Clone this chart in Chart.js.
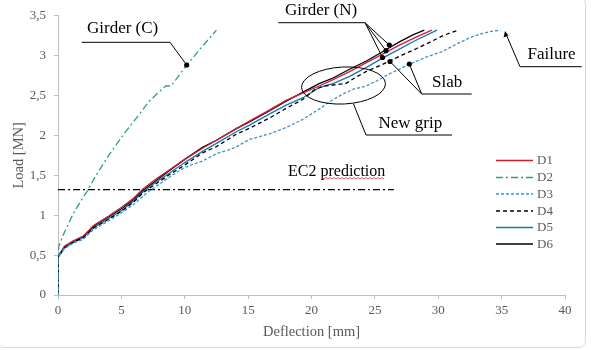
<!DOCTYPE html>
<html>
<head>
<meta charset="utf-8">
<script src="https://cdn.jsdelivr.net/npm/chart.js@4.4.1/dist/chart.umd.min.js"></script>
<style>
  html, body { margin: 0; padding: 0; background: #ffffff; }
  #wrap { position: relative; width: 591px; height: 350px; overflow: hidden; }
  #frame { position: absolute; left: -3px; top: -3px; width: 589px; height: 351px; border: 1px solid #d9d9d9; border-radius: 7px; box-sizing: border-box; pointer-events: none; }
  canvas { display: block; }
</style>
</head>
<body>
<div id="wrap">
<canvas id="c" width="591" height="350"></canvas>
<div id="frame"></div>
</div>
<script>
// ---------- data ----------
const seriesNames = ['D1', 'D2', 'D3', 'D4', 'D5', 'D6'];

const D1_x = [0,0,0.5,1.2,2.0,2.8,4.0,5.1,6.0,6.7,7.7,8.8,10,11.4,12.5,14,15.1,16.7,18,19.3,20.6,21.7,23,24.3,25.6,26.9,28.2,29.5];
const D1_y = [0,0.48,0.61,0.68,0.74,0.87,0.99,1.11,1.22,1.33,1.45,1.57,1.7,1.84,1.94,2.08,2.18,2.32,2.44,2.53,2.62,2.7,2.8,2.91,3.02,3.13,3.23,3.32];

const D2_x = [0,0,0.05,0.4,1.2,2.0,2.3,3.0,4.0,5.2,6.2,7.2,8.0,8.5,8.9,9.3,10.1,11.3,12.5];
const D2_y = [0,0.5,0.6,0.75,1.02,1.23,1.3,1.5,1.75,2.02,2.22,2.43,2.55,2.62,2.62,2.7,2.87,3.1,3.32];

const D3_x = [0,0,0.5,1.2,2.0,2.8,4.0,5.1,6.0,7.0,8.8,10,11.4,12.5,14,15.1,16.7,18,19.3,20.6,21.7,22.5,23.3,24.3,25.1,26,27.7,29,30.3,31.5,32.7,34,34.9];
const D3_y = [0,0.47,0.58,0.65,0.7,0.82,0.93,1.04,1.14,1.28,1.48,1.6,1.68,1.77,1.85,1.95,2.02,2.1,2.2,2.33,2.45,2.52,2.58,2.62,2.68,2.76,2.89,2.98,3.05,3.15,3.24,3.3,3.32];

const D4_x = [0,0,0.5,1.2,2.0,2.8,4.0,5.1,6.0,6.7,7.7,8.8,10,11.4,12.5,14,15.1,16.7,18,19.3,20.3,21,22.7,23.5,24.3,25.6,26.9,28.3,29.6,30.5,31.6];
const D4_y = [0,0.47,0.59,0.66,0.72,0.84,0.95,1.06,1.17,1.28,1.39,1.51,1.63,1.78,1.86,2.01,2.09,2.22,2.34,2.45,2.58,2.62,2.65,2.73,2.8,2.89,2.99,3.09,3.19,3.26,3.32];

const D5_x = [0,0,0.5,1.2,2.0,2.8,4.0,5.1,6.0,6.7,7.7,8.8,10,11.4,12.5,14,15.1,16.7,18,19.3,20.6,21.7,23,24.3,25.6,26.9,28.2,29.9];
const D5_y = [0,0.47,0.59,0.66,0.72,0.84,0.96,1.07,1.18,1.29,1.41,1.53,1.66,1.8,1.9,2.04,2.13,2.27,2.38,2.47,2.6,2.65,2.74,2.85,2.97,3.08,3.19,3.32];

const D6_x = [0,0,0.5,1.2,2.0,2.8,4.0,5.1,6.0,6.7,7.7,8.8,10,11.4,12.5,14,15.1,16.7,18,19.3,20.6,21.7,23,24.3,25.6,26.9,28,28.9];
const D6_y = [0,0.48,0.6,0.67,0.73,0.86,0.98,1.09,1.2,1.31,1.43,1.56,1.7,1.85,1.94,2.08,2.17,2.31,2.43,2.54,2.65,2.72,2.83,2.93,3.05,3.17,3.26,3.32];

const EC2_x = [0, 26.5];
const EC2_y = [1.32, 1.32];

const xTickLabels = ['0','5','10','15','20','25','30','35','40'];
const yTickLabels = ['0','0,5','1','1,5','2','2,5','3','3,5'];

// ---------- helpers ----------
const FONT = "'Liberation Serif', 'Times New Roman', serif";
const GREY = '#595959';
function pts(xs, ys) { return xs.map((x, i) => ({ x: x, y: ys[i] })); }

const styles = {
  D1: { color: '#d0202e', dash: [] },
  D2: { color: '#2ca36b', dash: [7, 3, 2, 3] },
  D3: { color: '#3f8fd0', dash: [3, 2] },
  D4: { color: '#000000', dash: [4, 3] },
  D5: { color: '#1c75b0', dash: [] },
  D6: { color: '#000000', dash: [] }
};
const seriesData = { D1: [D1_x, D1_y], D2: [D2_x, D2_y], D3: [D3_x, D3_y], D4: [D4_x, D4_y], D5: [D5_x, D5_y], D6: [D6_x, D6_y] };

// draw order: D3, D4, D2, D5, D1, D6 on top
const order = ['D3', 'D4', 'D2', 'D5', 'D1', 'D6'];
const datasets = order.map(n => ({
  label: n,
  data: pts(seriesData[n][0], seriesData[n][1]),
  borderColor: styles[n].color,
  borderDash: styles[n].dash,
  borderWidth: 1.3,
  pointRadius: 0,
  fill: false,
  tension: 0
}));
datasets.push({
  label: 'EC2',
  data: pts(EC2_x, EC2_y),
  borderColor: '#000000',
  borderDash: [7, 3, 2, 3],
  borderWidth: 1.2,
  pointRadius: 0,
  fill: false,
  tension: 0
});

// ---------- custom legend ----------
const legendPlugin = {
  id: 'customLegend',
  afterDraw(chart) {
    const ctx = chart.ctx;
    ctx.save();
    const x0 = 496, x1 = 533, tx = 537;
    const ys = [160.5, 177.5, 194, 211, 227.5, 244];
    seriesNames.forEach((n, i) => {
      const y = ys[i];
      ctx.beginPath();
      ctx.setLineDash(styles[n].dash);
      ctx.strokeStyle = styles[n].color;
      ctx.lineWidth = 1.3;
      ctx.moveTo(x0, y);
      ctx.lineTo(x1, y);
      ctx.stroke();
      ctx.setLineDash([]);
      ctx.fillStyle = GREY;
      ctx.font = '13px ' + FONT;
      ctx.textBaseline = 'middle';
      ctx.textAlign = 'left';
      ctx.fillText(n, tx, y + 0.5);
    });
    ctx.restore();
  }
};

// ---------- annotations (callouts) ----------
const annoPlugin = {
  id: 'callouts',
  afterDatasetsDraw(chart) {
    const ctx = chart.ctx;
    ctx.save();
    ctx.setLineDash([]);
    ctx.strokeStyle = '#000';
    ctx.fillStyle = '#000';
    ctx.lineWidth = 1;
    function line(p) {
      ctx.beginPath();
      ctx.moveTo(p[0][0], p[0][1]);
      for (let i = 1; i < p.length; i++) ctx.lineTo(p[i][0], p[i][1]);
      ctx.stroke();
    }
    function dot(x, y) {
      ctx.beginPath();
      ctx.arc(x, y, 2.6, 0, Math.PI * 2);
      ctx.fill();
    }
    function text(s, x, y, size) {
      ctx.font = size + 'px ' + FONT;
      ctx.textAlign = 'left';
      ctx.textBaseline = 'middle';
      ctx.fillText(s, x, y);
    }
    // Girder (C)
    line([[81.7, 42.3], [170, 42.3], [186.7, 65]]);
    dot(186.7, 65);
    text('Girder (C)', 87, 29, 17);
    // Girder (N)
    line([[278.3, 22.7], [365, 22.7]]);
    line([[365, 22.7], [389.3, 45]]);
    line([[365, 22.7], [386, 50.7]]);
    line([[365, 22.7], [382.5, 57.5]]);
    dot(389.3, 45); dot(386, 50.7); dot(382.5, 57.5);
    text('Girder (N)', 285, 10.5, 17);
    // Slab
    line([[390, 61.5], [421.7, 94], [409.3, 64]]);
    line([[421.7, 94], [471.7, 94]]);
    dot(390, 61.5); dot(409.3, 64);
    text('Slab', 432, 83, 17);
    // New grip
    ctx.beginPath();
    ctx.ellipse(343.5, 85.5, 42, 18.5, -0.05, 0, Math.PI * 2);
    ctx.stroke();
    line([[353.3, 103.5], [366, 135], [452, 135]]);
    text('New grip', 378.5, 123.5, 17);
    // Failure
    line([[581.7, 66.7], [520, 66.7], [506, 34]]);
    ctx.beginPath();
    ctx.moveTo(505, 31);
    ctx.lineTo(503.6, 37.6);
    ctx.lineTo(508.4, 35.6);
    ctx.closePath();
    ctx.fill();
    text('Failure', 527.5, 55, 17);
    // EC2 prediction
    text('EC2 prediction', 288, 172, 16);
    // spell-check wavy underline under "prediction"
    ctx.strokeStyle = '#e03030';
    ctx.lineWidth = 0.8;
    ctx.beginPath();
    for (let x = 322, k = 0; x <= 385; x += 2, k++) {
      const y = 178 + (k % 2 ? 1 : -0.5);
      if (k === 0) ctx.moveTo(x, y); else ctx.lineTo(x, y);
    }
    ctx.stroke();
    ctx.restore();
  }
};

// ---------- chart ----------
new Chart(document.getElementById('c'), {
  type: 'line',
  data: { datasets: datasets },
  options: {
    responsive: false,
    animation: false,
    devicePixelRatio: 1,
    layout: { padding: { left: 0, top: 14, right: 26, bottom: 0 } },
    plugins: { legend: { display: false }, tooltip: { enabled: false } },
    scales: {
      x: {
        type: 'linear',
        min: 0, max: 40,
        afterFit(s) { s.height = 55; },
        ticks: {
          stepSize: 5,
          color: GREY,
          font: { family: FONT, size: 13 },
          padding: 4,
          maxRotation: 0,
          callback: (v) => xTickLabels[Math.round(v / 5)]
        },
        grid: { display: true, drawOnChartArea: false, drawTicks: true, tickLength: 4, color: '#bfbfbf' },
        border: { display: true, color: '#bfbfbf', width: 1 },
        title: {
          display: true, text: 'Deflection [mm]', color: GREY,
          font: { family: FONT, size: 14.5, lineHeight: 1 },
          padding: { top: 0, bottom: 11 }
        }
      },
      y: {
        type: 'linear',
        min: 0, max: 3.5,
        afterFit(s) { s.width = 58; },
        ticks: {
          stepSize: 0.5,
          color: GREY,
          font: { family: FONT, size: 13 },
          padding: 8,
          callback: (v) => yTickLabels[Math.round(v / 0.5)]
        },
        grid: { display: true, drawOnChartArea: false, drawTicks: true, tickLength: 4, color: '#bfbfbf' },
        border: { display: true, color: '#bfbfbf', width: 1 },
        title: {
          display: true, text: 'Load [MN]', color: GREY,
          font: { family: FONT, size: 14.5, lineHeight: 1 },
          padding: { top: 12, bottom: 0 }
        }
      }
    }
  },
  plugins: [annoPlugin, legendPlugin]
});
</script>
</body>
</html>
